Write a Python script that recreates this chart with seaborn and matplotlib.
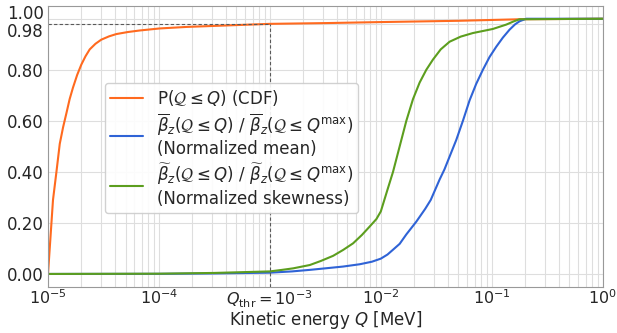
import numpy as np
import pandas as pd
import matplotlib
matplotlib.use("Agg")
import matplotlib.pyplot as plt
import matplotlib.transforms as mtransforms
from matplotlib.ticker import FixedLocator, LogLocator, NullFormatter
import seaborn as sns

# ---- data (log10 of kinetic energy Q [MeV], and normalized values) ----
cdf_logq = [-5, -4.955, -4.924, -4.894, -4.864, -4.834, -4.805, -4.775, -4.737,
            -4.70, -4.662, -4.624, -4.572, -4.52, -4.45, -4.384, -4.28, -4.174,
            -3.994, -3.75, -3.5, -3.0, -2.5, -2.0, -1.3, -0.75, 0]
cdf_val = [0, 0.29, 0.40, 0.51, 0.575, 0.63, 0.685, 0.73, 0.78,
           0.82, 0.853, 0.88, 0.902, 0.918, 0.931, 0.94, 0.948, 0.954,
           0.962, 0.968, 0.972, 0.98, 0.983, 0.987, 0.992, 0.998, 1.0]

mean_logq = [-5, -4, -3.5, -3, -2.8, -2.64, -2.5, -2.34, -2.19, -2.08, -2.0,
             -1.94, -1.89, -1.83, -1.77, -1.68, -1.60, -1.55, -1.47, -1.426,
             -1.32, -1.26, -1.20, -1.14, -1.08, -1.02, -0.96, -0.90, -0.84,
             -0.79, -0.75, -0.69, 0]
mean_val = [0, 0.0005, 0.002, 0.005, 0.01, 0.016, 0.022, 0.029, 0.038, 0.048,
            0.06, 0.076, 0.095, 0.118, 0.155, 0.205, 0.255, 0.29, 0.37, 0.41,
            0.525, 0.60, 0.68, 0.745, 0.80, 0.85, 0.89, 0.926, 0.957,
            0.978, 0.99, 1.0, 1.0]

skew_logq = [-5, -4, -3.5, -3, -2.89, -2.79, -2.64, -2.54, -2.43, -2.34, -2.25,
             -2.17, -2.10, -2.04, -2.0, -1.94, -1.89, -1.83, -1.77, -1.71,
             -1.65, -1.59, -1.53, -1.46, -1.38, -1.28, -1.17, -1.08, -0.99,
             -0.87, -0.80, -0.75, 0]
skew_val = [0, 0.001, 0.004, 0.01, 0.016, 0.022, 0.035, 0.051, 0.071, 0.094, 0.12,
            0.153, 0.186, 0.215, 0.245, 0.33, 0.40, 0.50, 0.60, 0.685,
            0.75, 0.80, 0.84, 0.88, 0.91, 0.93, 0.944, 0.952, 0.96,
            0.977, 0.99, 0.998, 1.0]

labels = [r"P($\mathcal{Q} \leq Q$) (CDF)",
          r"$\overline{\beta}_z(\mathcal{Q} \leq Q)$ / $\overline{\beta}_z(\mathcal{Q} \leq Q^{\mathrm{max}})$" + "\n(Normalized mean)",
          r"$\widetilde{\beta}_z(\mathcal{Q} \leq Q)$ / $\widetilde{\beta}_z(\mathcal{Q} \leq Q^{\mathrm{max}})$" + "\n(Normalized skewness)"]
colors = ["#FF6A1F", "#2F63D6", "#5C9E1E"]

q_thr = 1e-3
cdf_thr = 0.98
ytick_vals = [0.0, 0.2, 0.4, 0.6, 0.8, 0.98, 1.0]
ytick_labels = ["0.00", "0.20", "0.40", "0.60", "0.80", "0.98", "1.00"]
xtick_vals = [1e-5, 1e-4, 1e-3, 1e-2, 1e-1, 1e0]
xtick_labels = [r"$10^{-5}$", r"$10^{-4}$", r"$Q_{\mathrm{thr}} = 10^{-3}$",
                r"$10^{-2}$", r"$10^{-1}$", r"$10^{0}$"]

# ---- plot ----
sns.set_style("whitegrid", {"axes.edgecolor": "0.6", "grid.color": "0.87"})
plt.rcParams["font.family"] = ["DejaVu Sans"]
plt.rcParams["mathtext.fontset"] = "dejavusans"

fig = plt.figure(figsize=(6.17, 3.33), dpi=100)
ax = fig.add_axes([0.0778, 0.139, 0.899, 0.843])

series = [(cdf_logq, cdf_val), (mean_logq, mean_val), (skew_logq, skew_val)]
for (lq, v), lab, c in zip(series, labels, colors):
    df = pd.DataFrame({"Q": 10.0 ** np.array(lq), "v": v})
    sns.lineplot(data=df, x="Q", y="v", ax=ax, color=c, lw=1.5, label=lab,
                 sort=False, estimator=None)

ax.set_xscale("log")
ax.set_xlim(1e-5, 1e0)
ax.set_ylim(-0.05, 1.05)

ax.xaxis.set_major_locator(FixedLocator(xtick_vals))
ax.set_xticklabels(xtick_labels, fontsize=11.5)
ax.xaxis.set_minor_locator(LogLocator(base=10, subs=np.arange(2, 10), numticks=20))
ax.xaxis.set_minor_formatter(NullFormatter())
ax.set_yticks(ytick_vals)
ax.set_yticklabels(ytick_labels, fontsize=12)
ax.grid(True, which="major", color="0.87", lw=0.8)
ax.grid(True, which="minor", axis="x", color="0.87", lw=0.8)
ax.tick_params(axis="x", which="both", length=0, pad=1.5)
ax.tick_params(axis="y", which="both", length=0, pad=3)

# offset the crowded 0.98 / 1.00 labels
for lab in ax.get_yticklabels():
    t = lab.get_text()
    if t == "1.00":
        lab.set_transform(lab.get_transform() + mtransforms.ScaledTranslation(0, 5/72, fig.dpi_scale_trans))
    elif t == "0.98":
        lab.set_transform(lab.get_transform() + mtransforms.ScaledTranslation(0, -4.5/72, fig.dpi_scale_trans))

# threshold guide lines
ax.plot([q_thr, q_thr], [-0.05, cdf_thr], ls="--", color="0.35", lw=0.8, dashes=(3, 2))
ax.plot([1e-5, q_thr], [cdf_thr, cdf_thr], ls="--", color="0.35", lw=0.8, dashes=(3, 2))

ax.set_xlabel(r"Kinetic energy $Q$ [MeV]", fontsize=12, labelpad=-1)
ax.set_ylabel("")

ax.legend(loc="upper left", bbox_to_anchor=(0.103, 0.726), borderaxespad=0,
          fontsize=12, frameon=True, framealpha=0.9, labelspacing=0.2,
          handletextpad=0.8, borderpad=0.3)

fig.savefig("out.png", dpi=100)
